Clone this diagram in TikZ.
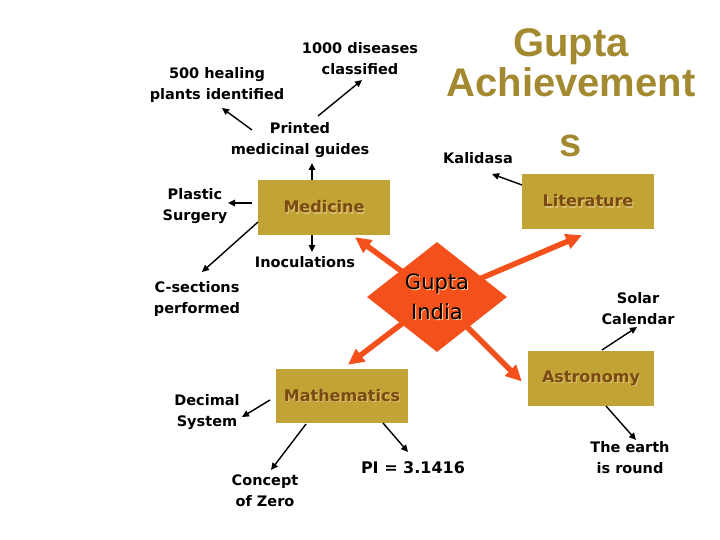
\documentclass[tikz,border=0pt]{standalone}
\usepackage{fontspec}
\setmainfont{DejaVu Sans}
\newfontfamily\titlefont{Liberation Sans}
\usetikzlibrary{shapes.geometric,arrows.meta,backgrounds}
\definecolor{gold}{HTML}{C2A336}
\definecolor{boxtext}{HTML}{7A4A10}
\definecolor{boxshadow}{HTML}{D8C070}
\definecolor{titlecol}{HTML}{A38A30}
\definecolor{orng}{HTML}{F4501C}
\newcommand{\shadowed}[3]{\makebox[0pt][l]{\hspace*{#3}\raisebox{-#3}{\textcolor{#1}{#2}}}#2}
\begin{document}
\begin{tikzpicture}[x=1pt,y=-1pt,
  lbl/.style={font=\bfseries\fontsize{14.5}{21}\selectfont, align=center, inner sep=0pt},
  catbox/.style={fill=gold, minimum width=132pt, minimum height=55pt, inner sep=0pt,
    font=\bfseries\fontsize{16}{20}\selectfont, text=boxtext},
  titleline/.style={font=\titlefont\bfseries\fontsize{40}{40}\selectfont, text=titlecol, anchor=base, inner sep=0pt, text depth=0pt},
  arr/.style={-{Triangle[length=7pt,width=6.5pt]}, line width=1.4pt},
  bigarr/.style={-{Triangle[length=16pt,width=15pt]}, line width=5.5pt, draw=orng}]
\useasboundingbox (0,0) rectangle (720,540);

% title
\node[titleline] (t1) at (571,57) {Gupta};
\node[titleline] (t2) at (571,97) {Achievement};
\node[titleline] (t3) at (571,157) {s};

% category boxes
\node[catbox] (med) at (324,207.5) {\shadowed{boxshadow}{Medicine}{1.2pt}};
\node[catbox] (lit) at (588,201.5) {\shadowed{boxshadow}{Literature}{1.2pt}};
\node[catbox, minimum height=54pt] (math) at (342,396) {\shadowed{boxshadow}{Mathematics}{1.2pt}};
\node[catbox, minimum width=126pt] (astro) at (591,378.5) {\shadowed{boxshadow}{Astronomy}{1.2pt}};

% centre diamond
\node[diamond, fill=orng, minimum width=140pt, minimum height=110pt, inner sep=0pt,
  aspect=1.27, align=center, font=\fontsize{21}{30}\selectfont] (gi) at (437,297)
  {\shadowed{orange!40}{Gupta}{1pt}\\\shadowed{orange!40}{India}{1pt}};

\begin{scope}[on background layer]
\draw[bigarr] (gi.center) -- ([xshift=31pt,yshift=-2pt]med.south);
\draw[bigarr] (gi.center) -- ([xshift=-6pt,yshift=-6pt]lit.south);
\draw[bigarr] (gi.center) -- ([xshift=6pt,yshift=4pt]math.north);
\draw[bigarr] (gi.center) -- ([xshift=-6pt,yshift=-3pt]astro.west);
\end{scope}

% labels
\node[lbl] (d1000) at (360,59) {1000 diseases\\classified};
\node[lbl] (heal) at (217,85) {500 healing\\plants identified};
\node[lbl] (printed) at (300,140) {Printed\\medicinal guides};
\node[lbl] (kali) at (478,158) {Kalidasa};
\node[lbl] (plastic) at (195,206) {Plastic\\Surgery};
\node[lbl] (csec) at (197,299) {C-sections\\performed};
\node[lbl] (inoc) at (305,262) {Inoculations};
\node[lbl] (solar) at (638,309) {Solar\\Calendar};
\node[lbl] (decimal) at (207,412) {Decimal\\System};
\node[lbl] (zero) at (265,491) {Concept\\of Zero};
\node[lbl, font=\bfseries\fontsize{16}{21}\selectfont] (pi) at (413,468) {PI = 3.1416};
\node[lbl] (earth) at (630,458) {The earth\\is round};

% black connectors
\draw[arr] ([shift={(-12,-27.5)}]med.center) -- ([shift={(12,23)}]printed.center);
\draw[arr] ([shift={(-48,-10)}]printed.center) -- ([shift={(5,23)}]heal.center);
\draw[arr] ([shift={(18,-24)}]printed.center) -- ([shift={(2,21)}]d1000.center);
\draw[arr] ([shift={(-66,-16.5)}]lit.center) -- ([shift={(14,16)}]kali.center);
\draw[arr] ([shift={(-72,-4.5)}]med.center) -- ([shift={(33,-3)}]plastic.center);
\draw[arr] ([shift={(-66,14.5)}]med.center) -- ([shift={(5,-27)}]csec.center);
\draw[arr] ([shift={(-12,27.5)}]med.center) -- ([shift={(7,-10)}]inoc.center);
\draw[arr] ([shift={(11,-28.5)}]astro.center) -- ([shift={(-1,18)}]solar.center);
\draw[arr] ([shift={(-72,4)}]math.center) -- ([shift={(35,5)}]decimal.center);
\draw[arr] ([shift={(-36,28)}]math.center) -- ([shift={(6,-21)}]zero.center);
\draw[arr] ([shift={(41,27)}]math.center) -- ([shift={(-5,-16)}]pi.center);
\draw[arr] ([shift={(15,27.5)}]astro.center) -- ([shift={(6,-18)}]earth.center);
\end{tikzpicture}
\end{document}
